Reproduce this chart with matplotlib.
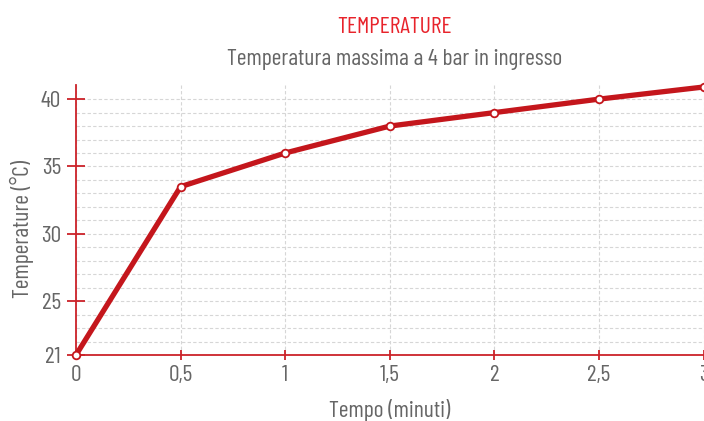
import numpy as np
import matplotlib.pyplot as plt
from matplotlib.ticker import FixedLocator, FuncFormatter

plt.rcParams['font.family'] = ['Barlow Condensed', 'DejaVu Sans']
plt.rcParams['font.weight'] = 400

## data
tempo = [0, 0.5, 1, 1.5, 2, 2.5, 3]
temperatura = [21, 33.5, 36, 38, 39, 40, 40.9]
y_major = [21, 25, 30, 35, 40]
y_minor = [v for v in range(22, 41) if v not in y_major]
x_ticks = [0, 0.5, 1, 1.5, 2, 2.5, 3]

red_line = '#c4161c'
red_axis = '#cc2229'
red_title = '#e8232b'
grey = '#666666'
fs = 17

fig = plt.figure(figsize=(7.04, 4.21), dpi=100)
ax = fig.add_axes([76/704, 1-355/421, (703.5-76)/704, (355-85)/421])

ax.plot(tempo, temperatura, color=red_line, lw=3.8, marker='o', ms=5.5,
        mfc='white', mec=red_line, mew=1.3, clip_on=False, zorder=5)

ax.set_xlim(0, 3)
ax.set_ylim(21, 41.05)

ax.xaxis.set_major_locator(FixedLocator(x_ticks))
ax.xaxis.set_major_formatter(FuncFormatter(lambda v, p: ('%g' % v).replace('.', ',')))
ax.yaxis.set_major_locator(FixedLocator(y_major))
ax.yaxis.set_minor_locator(FixedLocator(y_minor))

ax.grid(True, which='both', axis='y', color='#d6d6d6', ls=(0, (3, 2)), lw=0.8)
ax.grid(True, which='major', axis='x', color='#d6d6d6', ls=(0, (3, 2)), lw=0.8)

for s in ['top', 'right']:
    ax.spines[s].set_visible(False)
for s in ['left', 'bottom']:
    ax.spines[s].set_color(red_axis)
    ax.spines[s].set_linewidth(1.3)

ax.tick_params(axis='y', which='major', direction='inout', length=12.5, width=1.3,
               color=red_axis, labelcolor=grey, labelsize=fs, pad=4.6)
ax.tick_params(axis='y', which='minor', length=0)
ax.tick_params(axis='x', which='major', direction='inout', length=6.5, width=1.3,
               color=red_axis, labelcolor=grey, labelsize=fs, pad=4.3)

ax.set_ylabel('Temperature (°C)', color=grey, fontsize=fs)
ax.yaxis.set_label_coords(-0.067, 0.465)
ax.set_xlabel('Tempo (minuti)', color=grey, fontsize=fs, labelpad=9)

fig.text(395/704, 1-33/421, 'TEMPERATURE', color=red_title, fontsize=fs,
         ha='center', va='baseline')
fig.text(395/704, 1-65/421, 'Temperatura massima a 4 bar in ingresso', color=grey,
         fontsize=fs, ha='center', va='baseline')

fig.savefig('out.png', dpi=100)
